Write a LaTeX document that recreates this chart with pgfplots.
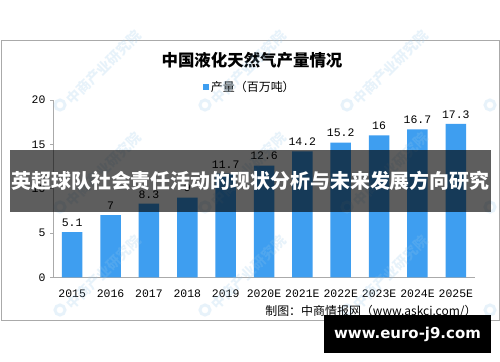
\documentclass[border=0pt]{standalone}
\usepackage{pgfplots}
\pgfplotsset{compat=1.18}
\usepackage{pgfplotstable}
\usepackage{fontspec}
\setmainfont{Liberation Mono}
\newfontfamily\cjk{Noto Sans CJK SC}
\newfontfamily\dv{DejaVu Sans}
\definecolor{barblue}{RGB}{62,158,240}
\definecolor{wm}{RGB}{150,200,235}
\definecolor{axgray}{RGB}{170,170,170}
\pgfplotstableread{
x y
0 5.1
1 7
2 8.3
3 9
4 11.7
5 12.6
6 14.2
7 15.2
8 16
9 16.7
10 17.3
}\lngdata
\begin{document}
\begin{tikzpicture}
\path[use as bounding box, fill=white] (0,0) rectangle (500bp,362bp);
% outer frame
\draw[color=axgray, line width=0.8bp] (1bp,42bp) rectangle (499bp,322bp);
% title
\node[font=\cjk\bfseries\fontsize{16.5}{18}\selectfont, anchor=center] at (252bp,302bp) {中国液化天然气产量情况};
\begin{axis}[
  at={(53bp,84.7bp)}, anchor=south west,
  scale only axis, width=422bp, height=177.3bp,
  xmin=-0.5, xmax=10.5, ymin=0, ymax=20,
  axis x line=bottom, axis y line=left,
  axis line style={-, color=axgray, line width=0.8bp},
  xtick={0,1,2,3,4,5,6,7,8,9,10},
  xticklabels={2015,2016,2017,2018,2019,2020E,2021E,2022E,2023E,2024E,2025E},
  x tick style={draw=none},
  extra x ticks={-0.5,0.5,1.5,2.5,3.5,4.5,5.5,6.5,7.5,8.5,9.5,10.5},
  extra x tick labels={},
  extra x tick style={tick align=outside, major tick length=4bp, tick style={color=axgray, line width=0.8bp}},
  ytick={0,5,10,15,20},
  y tick style={color=axgray, line width=0.8bp},
  tick align=outside, major tick length=3bp,
  ticklabel style={font=\fontsize{11.5}{13}\selectfont, text=black},
  /pgf/number format/assume math mode=true,
  xticklabel style={yshift=-6bp},
  yticklabel style={xshift=-1bp},
  legend style={at={(axis description cs:0.467,1.073)}, anchor=center, draw=none, fill=none,
    font=\cjk\fontsize{12}{14}\selectfont, inner sep=0pt, legend cell align=left},
  legend image code/.code={\fill[barblue] (0bp,-2.5bp) rectangle (5.5bp,3bp);},
  nodes near coords,
  nodes near coords style={font=\fontsize{11.5}{13}\selectfont, text=black, yshift=2bp,
    /pgf/number format/assume math mode=true},
  clip=false,
]
\addplot[ybar, bar width=20.5bp, fill=barblue, draw=none] table[x=x, y=y] {\lngdata};
\addlegendentry{产量（百万吨）}
\end{axis}
% watermarks (faint)
\foreach \px in {60,205,347} {
  \foreach \py in {105,207,310} {
    \draw[color=wm, opacity=0.22, line width=3bp] ({\px*1bp},{(362-\py)*1bp}) circle (5bp);
    \node[rotate=45, anchor=west, text=wm, opacity=0.22, font=\cjk\bfseries\fontsize{14}{14}\selectfont, inner sep=0pt]
      at ({(\px+9)*1bp},{(362-\py+3)*1bp}) {中商产业研究院};
  }
}
\foreach \py in {105,207,310} {
  \draw[color=wm, opacity=0.22, line width=3bp] (490bp,{(362-\py)*1bp}) circle (5bp);
}
% source
\node[anchor=east, font=\cjk\fontsize{12}{14}\selectfont] at (480bp,51bp) {制图：中商情报网（www.askci.com/）};
% overlay band
\fill[black, opacity=0.63] (10bp,150bp) rectangle (491bp,212bp);
\node[text=white, font=\cjk\bfseries\fontsize{20}{22}\selectfont] at (250.5bp,181bp) {英超球队社会责任活动的现状分析与未来发展方向研究};
% black box
\fill[black] (324bp,9bp) rectangle (491bp,47bp);
\node[text=white, font=\dv\bfseries\fontsize{15}{17}\selectfont] at (407.5bp,28bp) {www.euro-j9.com};
\end{tikzpicture}
\end{document}
